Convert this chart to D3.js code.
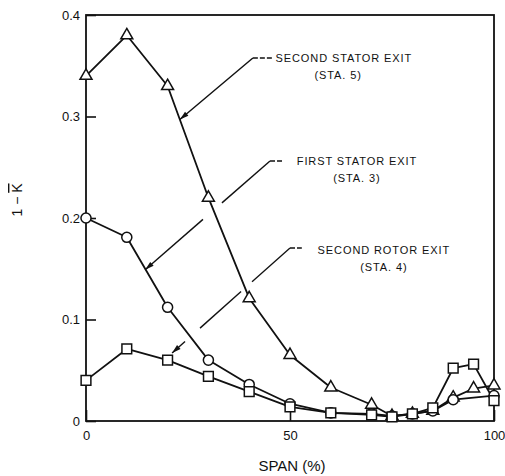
<!DOCTYPE html>
<html>
<head>
<meta charset="utf-8">
<script src="https://cdn.jsdelivr.net/npm/d3@7"></script>
<style>
  body { margin: 0; background: #fff; }
  svg { display: block; }
  text { font-family: "Liberation Sans", Arial, Helvetica, sans-serif; fill: #111; }
</style>
</head>
<body>
<svg id="chart" width="505" height="476"></svg>
<script>
// Axis ticks
const xTicks = [0, 50, 100];
const xTickLabels = ["0", "50", "100"];
const yTicks = [0, 0.1, 0.2, 0.3, 0.4];
const yTickLabels = ["0", "0.1", "0.2", "0.3", "0.4"];

// Second stator exit (STA. 5) – triangles
const spanSta5 = [0, 10, 20, 30, 40, 50, 60, 70, 75, 80, 85, 90, 95, 100];
const lossSta5 = [0.340, 0.380, 0.330, 0.220, 0.121, 0.065, 0.033, 0.016, 0.005, 0.007, 0.010, 0.023, 0.032, 0.035];

// First stator exit (STA. 3) – circles
const spanSta3 = [0, 10, 20, 30, 40, 50, 60, 70, 75, 80, 85, 90, 100];
const lossSta3 = [0.200, 0.181, 0.112, 0.060, 0.036, 0.017, 0.008, 0.007, 0.005, 0.007, 0.010, 0.021, 0.025];

// Second rotor exit (STA. 4) – squares
const spanSta4 = [0, 10, 20, 30, 40, 50, 60, 70, 75, 80, 85, 90, 95, 100];
const lossSta4 = [0.040, 0.071, 0.060, 0.044, 0.029, 0.014, 0.008, 0.006, 0.004, 0.007, 0.013, 0.052, 0.056, 0.020];

const seriesNames = ["SECOND STATOR EXIT", "FIRST STATOR EXIT", "SECOND ROTOR EXIT"];
const stationNames = ["(STA. 5)", "(STA. 3)", "(STA. 4)"];

const svg = d3.select("#chart");
const margin = { left: 86, top: 15, right: 11, bottom: 55 };
const W = 505, H = 476;
const x = d3.scaleLinear().domain([0, 100]).range([margin.left, W - margin.right]);
const y = d3.scaleLinear().domain([0, 0.4]).range([H - margin.bottom, margin.top]);

const ink = "#111";

// Frame
svg.append("rect")
  .attr("x", x(0)).attr("y", y(0.4))
  .attr("width", x(100) - x(0)).attr("height", y(0) - y(0.4))
  .attr("fill", "none").attr("stroke", ink).attr("stroke-width", 1.8);

// Axes (ticks point inward)
const yAxis = d3.axisLeft(y).tickValues(yTicks)
  .tickFormat((d, i) => yTickLabels[i]).tickSize(-10).tickPadding(6);
const gy = svg.append("g").attr("transform", `translate(${x(0)},0)`).call(yAxis);
const xAxis = d3.axisBottom(x).tickValues(xTicks)
  .tickFormat((d, i) => xTickLabels[i]).tickSize(-11).tickPadding(10);
const gx = svg.append("g").attr("transform", `translate(0,${y(0)})`).call(xAxis);
[gx, gy].forEach(g => {
  g.select(".domain").remove();
  g.selectAll(".tick line").attr("stroke", ink).attr("stroke-width", 1.6);
  g.selectAll(".tick text").style("font-size", "13px").attr("fill", ink)
    .style("font-family", '"Liberation Sans", Arial, sans-serif');
});

// Axis titles
svg.append("text")
  .attr("x", 292).attr("y", 471)
  .attr("text-anchor", "middle")
  .style("font-size", "15px")
  .text("SPAN (%)");

const yTitle = svg.append("text")
  .attr("transform", "translate(22,200) rotate(-90)")
  .attr("text-anchor", "middle")
  .style("font-size", "14px");
yTitle.append("tspan").text("1 \u2212 ");
yTitle.append("tspan").style("text-decoration", "overline").text("K");

// Data lines and markers
const series = [
  { span: spanSta5, loss: lossSta5, symbol: d3.symbolTriangle, size: 62 },
  { span: spanSta3, loss: lossSta3, symbol: d3.symbolCircle, size: 80 },
  { span: spanSta4, loss: lossSta4, symbol: d3.symbolSquare, size: 95 }
];

const line = d3.line().x(d => x(d[0])).y(d => y(d[1]));

series.forEach(s => {
  const pts = s.span.map((v, i) => [v, s.loss[i]]);
  svg.append("path")
    .attr("d", line(pts))
    .attr("fill", "none").attr("stroke", ink).attr("stroke-width", 1.8)
    .attr("stroke-linejoin", "round");
});

series.forEach(s => {
  const pts = s.span.map((v, i) => [v, s.loss[i]]);
  const sym = d3.symbol().type(s.symbol).size(s.size);
  svg.append("g").selectAll("path")
    .data(pts).join("path")
    .attr("transform", d => `translate(${x(d[0])},${y(d[1])})`)
    .attr("d", sym)
    .attr("fill", "#fff").attr("stroke", ink).attr("stroke-width", 1.5);
});

// Leader annotations (positions in data units: span %, 1 - K)
const annotations = [
  { name: 0, flat: [40.9, 45.8, 0.3576], tip: [23.0, 0.297], gaps: [],
    text: [63.2, 0.3576], sub: 61.8 },
  { name: 1, flat: [45.1, 48.3, 0.2562], tip: [14.5, 0.149], gaps: [[0.385, 0.537]],
    text: [66.4, 0.2562], sub: 66.4 },
  { name: 2, flat: [50.0, 52.9, 0.1704], tip: [21.1, 0.067], gaps: [[0.322, 0.415], [0.763, 0.89]],
    text: [73.0, 0.1685], sub: 73.0 }
];

annotations.forEach(a => {
  const cx = x(a.flat[0]), cy = y(a.flat[2]);
  const tx = x(a.tip[0]), ty = y(a.tip[1]);
  // dashed horizontal stub
  svg.append("line")
    .attr("x1", cx).attr("y1", cy).attr("x2", x(a.flat[1])).attr("y2", cy)
    .attr("stroke", ink).attr("stroke-width", 1.4).attr("stroke-dasharray", "5,2");
  // diagonal leader, broken where it crosses other curves
  const cuts = [0].concat(...a.gaps).concat([1]);
  for (let i = 0; i < cuts.length; i += 2) {
    const t0 = cuts[i], t1 = cuts[i + 1];
    svg.append("line")
      .attr("x1", cx + (tx - cx) * t0).attr("y1", cy + (ty - cy) * t0)
      .attr("x2", cx + (tx - cx) * t1).attr("y2", cy + (ty - cy) * t1)
      .attr("stroke", ink).attr("stroke-width", 1.4);
  }
  // arrowhead
  const ang = Math.atan2(ty - cy, tx - cx);
  const L = 9, Wd = 2.6;
  const bx = tx - L * Math.cos(ang), by = ty - L * Math.sin(ang);
  const px = -Math.sin(ang) * Wd, py = Math.cos(ang) * Wd;
  svg.append("path")
    .attr("d", `M${tx},${ty}L${bx + px},${by + py}L${bx - px},${by - py}Z`)
    .attr("fill", ink);
  // label
  const ly = y(a.text[1]);
  svg.append("text")
    .attr("x", x(a.text[0])).attr("y", ly).attr("dy", "0.36em")
    .attr("text-anchor", "middle")
    .style("font-size", "11px").style("letter-spacing", "0.9px")
    .text(seriesNames[a.name]);
  svg.append("text")
    .attr("x", x(a.sub)).attr("y", ly + 17).attr("dy", "0.36em")
    .attr("text-anchor", "middle")
    .style("font-size", "11px").style("letter-spacing", "0.9px")
    .text(stationNames[a.name]);
});
</script>
</body>
</html>
